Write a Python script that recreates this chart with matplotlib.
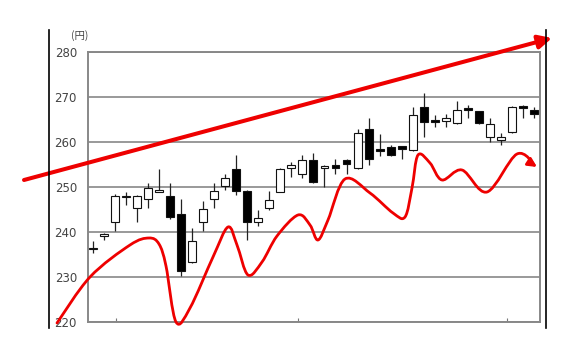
import numpy as np
import matplotlib
matplotlib.use("Agg")
import matplotlib.pyplot as plt
from matplotlib.path import Path
from matplotlib.patches import FancyArrowPatch

plt.rcParams['font.family'] = ['Noto Sans CJK JP', 'DejaVu Sans']

# ---- candle data (yen) ----
opens = [236.2, 239.1, 242.3, 247.7, 245.3, 247.3, 249.0, 248.0, 244.0, 233.4,
         242.3, 247.3, 250.2, 253.9, 249.0, 242.3, 245.3, 249.0, 254.2, 253.0,
         256.0, 254.2, 254.9, 256.0, 254.2, 263.0, 258.4, 259.0, 259.0, 258.2,
         267.8, 264.9, 264.7, 264.2, 267.3, 266.9, 261.2, 260.4, 262.3, 268.1,
         267.1]
highs = [238.0, 239.8, 248.5, 249.0, 248.2, 251.0, 253.9, 250.8, 247.3, 241.0,
         247.0, 251.0, 253.0, 257.1, 249.3, 244.9, 249.2, 254.2, 255.6, 257.1,
         257.6, 255.0, 256.2, 256.3, 263.0, 265.3, 261.7, 259.3, 259.2, 267.8,
         271.0, 265.9, 266.2, 269.1, 268.2, 267.0, 265.3, 261.9, 268.0, 268.2,
         267.8]
lows = [235.3, 238.3, 240.3, 246.0, 242.3, 245.3, 248.8, 243.0, 230.2, 233.2,
        240.3, 245.3, 249.3, 248.2, 238.2, 241.3, 245.0, 248.8, 252.3, 252.0,
        251.0, 250.1, 252.9, 253.0, 254.0, 254.9, 257.0, 257.0, 256.2, 258.0,
        261.2, 263.4, 263.4, 264.0, 265.3, 264.0, 260.1, 259.3, 262.0, 265.4,
        265.3]
closes = [236.2, 239.1, 248.0, 247.7, 247.9, 249.8, 249.3, 243.3, 231.4, 238.1,
          245.0, 249.0, 251.9, 249.2, 242.3, 243.0, 247.1, 253.9, 254.9, 256.0,
          251.2, 254.7, 254.2, 255.1, 262.1, 256.2, 258.0, 257.1, 258.4, 265.9,
          264.4, 264.5, 265.3, 267.1, 267.1, 264.2, 263.9, 261.2, 267.8, 267.5,
          266.2]
y_ticks = [220, 230, 240, 250, 260, 270, 280]
x_tick_pos = [2.1, 18.6, 37.6]

# ---- hand-drawn annotations (figure pixel coordinates) ----
trend_start = (24, 180)
trend_end = (552, 38)
wave_pts = [(57, 323), (90, 277), (130, 245), (149, 238), (159, 244), (166, 266),
            (176, 322), (190, 308), (213, 257), (228, 227), (237, 245), (248, 275),
            (262, 262), (277, 236), (298, 215), (310, 225), (318, 240), (328, 220),
            (345, 179), (370, 193), (393, 213), (405, 217), (412, 188), (418, 155),
            (430, 163), (442, 180), (462, 170), (487, 192), (517, 154), (537, 167)]

W, H = 584, 343
fig = plt.figure(figsize=(W / 100, H / 100), dpi=100)
fig.patch.set_facecolor('white')

ax = fig.add_axes([88 / W, (H - 322) / H, (540 - 88) / W, (322 - 52) / H])
n = len(opens)
x = np.arange(n)
o = np.array(opens); c = np.array(closes)
bottom = np.minimum(o, c)
height = np.maximum(np.abs(c - o), 0.35)
colors = ['white' if cc >= oo else 'black' for oo, cc in zip(o, c)]
ax.vlines(x, lows, highs, color='#222222', lw=0.9, zorder=2)
ax.bar(x, height, bottom=bottom, width=0.72, color=colors, edgecolor='#111111',
       linewidth=0.8, zorder=3)

ax.set_xlim(-0.45, 40.55)
ax.set_ylim(220, 280)
ax.set_yticks(y_ticks)
ax.set_yticklabels([str(v) for v in y_ticks], color='#444444', fontsize=8.5,
                   family=['DejaVu Sans'])
ax.tick_params(axis='y', length=0, pad=8)
ax.set_xticks(x_tick_pos)
ax.set_xticklabels([])
ax.tick_params(axis='x', direction='in', length=3, color='#777777')
ax.grid(axis='y', color='#999999', lw=1.4, zorder=0)
for s in ax.spines.values():
    s.set_color('#888888')
    s.set_linewidth(1.4)

# overlay for annotations
ov = fig.add_axes([0, 0, 1, 1], zorder=10)
ov.set_xlim(0, W); ov.set_ylim(H, 0)
ov.axis('off'); ov.patch.set_alpha(0)

ov.text(80, 36, '(円)', ha='center', va='center', fontsize=7.5, color='#444444')
ov.plot([49, 49], [30, 328], color='black', lw=1.2)
ov.plot([546, 546], [30, 328], color='black', lw=1.2)

arr = FancyArrowPatch(trend_start, trend_end, arrowstyle='-|>', mutation_scale=20,
                      color='#ee0000', lw=2.9, shrinkA=0, shrinkB=0)
ov.add_patch(arr)

P = np.array(wave_pts, dtype=float)
ext = np.vstack([P[0], P, P[-1]])
verts = [tuple(P[0])]
codes = [Path.MOVETO]
for i in range(1, len(ext) - 2):
    p0, p1, p2, p3 = ext[i - 1], ext[i], ext[i + 1], ext[i + 2]
    c1 = p1 + (p2 - p0) / 6
    c2 = p2 - (p3 - p1) / 6
    verts += [tuple(c1), tuple(c2), tuple(p2)]
    codes += [Path.CURVE4] * 3
wave = FancyArrowPatch(path=Path(verts, codes), arrowstyle='-|>', mutation_scale=13,
                       color='#ee0000', lw=2.0)
ov.add_patch(wave)

fig.savefig('out.png', dpi=100)
